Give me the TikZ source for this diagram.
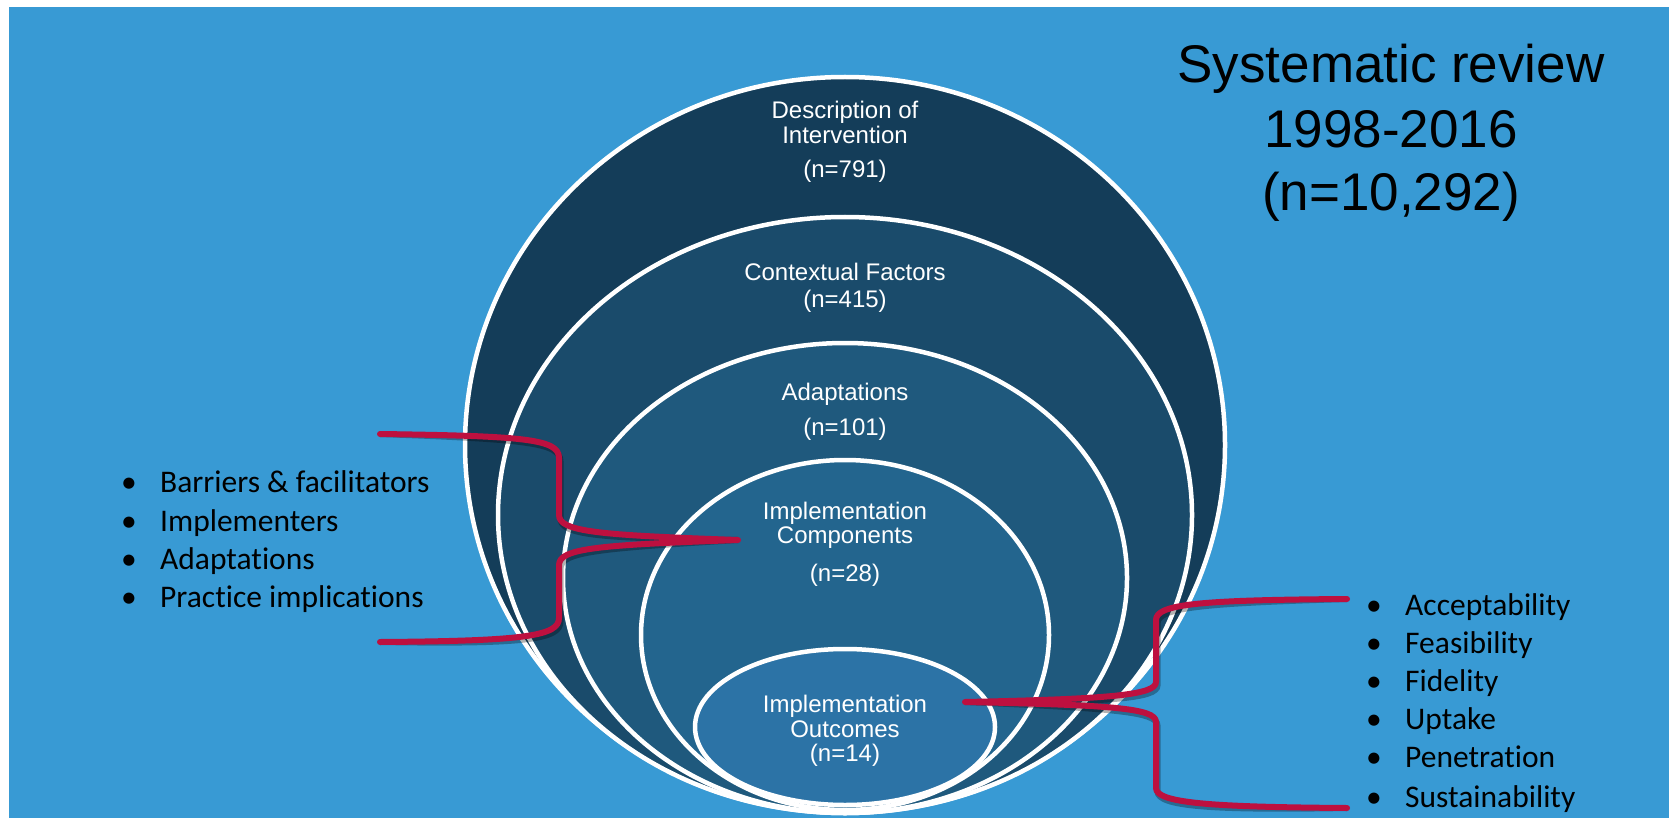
\documentclass[tikz,border=0pt]{standalone}
\usepackage{fontspec}
\usepackage{tikz}
\setmainfont{Liberation Sans}
\newfontfamily\calibri[Ligatures=NoCommon]{Carlito}

\definecolor{slide}{RGB}{56,154,212}
\definecolor{ringA}{RGB}{20,61,89}
\definecolor{ringB}{RGB}{26,75,107}
\definecolor{ringC}{RGB}{31,89,125}
\definecolor{ringD}{RGB}{35,101,142}
\definecolor{ringE}{RGB}{44,115,166}
\definecolor{braceRed}{RGB}{189,16,63}

\newcommand{\itm}[1]{\makebox[39pt][l]{\textbullet}#1}

\begin{document}
\begin{tikzpicture}[x=1pt, y=-1pt,
  ring/.style={draw=white, line width=4.5pt},
  lbl/.style={text=white, font=\fontsize{24}{28}\selectfont, anchor=base, inner sep=0pt},
  bul/.style={font=\calibri\fontsize{31.5}{36}\selectfont, anchor=base west, inner sep=0pt},
  ttl/.style={font=\fontsize{53}{64}\selectfont, anchor=base, inner sep=0pt},
  brace/.style={draw=braceRed, line width=6pt, line cap=round, line join=round},
  braceshade/.style={draw=black, opacity=.3, line width=6pt, shift={(1.5,3.5)}}]
\useasboundingbox (0,0) rectangle (1669,818);
\fill[white] (0,0) rectangle (1669,818);
\fill[slide] (9,7) rectangle (1669,818);

% nested rings, outside in
\draw[ring, fill=ringA] (845,445) ellipse [x radius=380, y radius=368];
\draw[ring, fill=ringB] (845,515) ellipse [x radius=347, y radius=298];
\draw[ring, fill=ringC] (845,578) ellipse [x radius=282, y radius=235];
\draw[ring, fill=ringD] (845,635) ellipse [x radius=204, y radius=175];
\draw[ring, fill=ringE] (845,727) ellipse [x radius=150, y radius=78];

\node[lbl] (desc1) at (845,119) {Description of};
\node[lbl] (desc2) at (845,144) {Intervention};
\node[lbl] (descN) at (845,178) {(n=791)};
\node[lbl] (ctx1)  at (845,280) {Contextual Factors};
\node[lbl] (ctxN)  at (845,307) {(n=415)};
\node[lbl] (adp1)  at (845,400) {Adaptations};
\node[lbl] (adpN)  at (845,435) {(n=101)};
\node[lbl] (comp1) at (845,519) {Implementation};
\node[lbl] (comp2) at (845,543) {Components};
\node[lbl] (compN) at (845,581) {(n=28)};
\node[lbl] (out1)  at (845,712) {Implementation};
\node[lbl] (out2)  at (845,737) {Outcomes};
\node[lbl] (outN)  at (845,761) {(n=14)};

% brace ends
\coordinate (lTop) at (380,434);
\coordinate (lBot) at (380,642);
\coordinate (lTip) at (738,540);
\coordinate (rTop) at (1347,599);
\coordinate (rBot) at (1347,808);
\coordinate (rTip) at (965,702);

\foreach \s in {braceshade, brace} {
  \draw[\s] (lTop) .. controls (525,436) and (559,439) .. (559,458)
            -- (559,515) .. controls (559,532) and (600,535) .. (lTip)
            .. controls (600,545) and (559,548) .. (559,565)
            -- (559,618) .. controls (559,636) and (525,641) .. (lBot);
  \draw[\s] (rTop) .. controls (1200,600) and (1156,604) .. (1156,620)
            -- (1156,682) .. controls (1156,695) and (1110,699) .. (rTip)
            .. controls (1110,705) and (1156,708) .. (1156,722)
            -- (1156,788) .. controls (1156,803) and (1210,807) .. (rBot);
}

\node[bul] (bar) at (121,492) {\itm{Barriers \& facilitators}};
\node[bul] (imp) at (121,531) {\itm{Implementers}};
\node[bul] (ada) at (121,569) {\itm{Adaptations}};
\node[bul] (pra) at (121,607) {\itm{Practice implications}};

\node[bul] (acc) at (1366,615) {\itm{Acceptability}};
\node[bul] (fea) at (1366,653) {\itm{Feasibility}};
\node[bul] (fid) at (1366,691) {\itm{Fidelity}};
\node[bul] (upt) at (1366,729) {\itm{Uptake}};
\node[bul] (pen) at (1366,767) {\itm{Penetration}};
\node[bul] (sus) at (1366,807) {\itm{Sustainability}};

\node[ttl] (title1) at (1391,83)  {Systematic review};
\node[ttl] (title2) at (1391,148) {1998-2016};
\node[ttl] (title3) at (1391,211) {(n=10,292)};
\end{tikzpicture}
\end{document}
